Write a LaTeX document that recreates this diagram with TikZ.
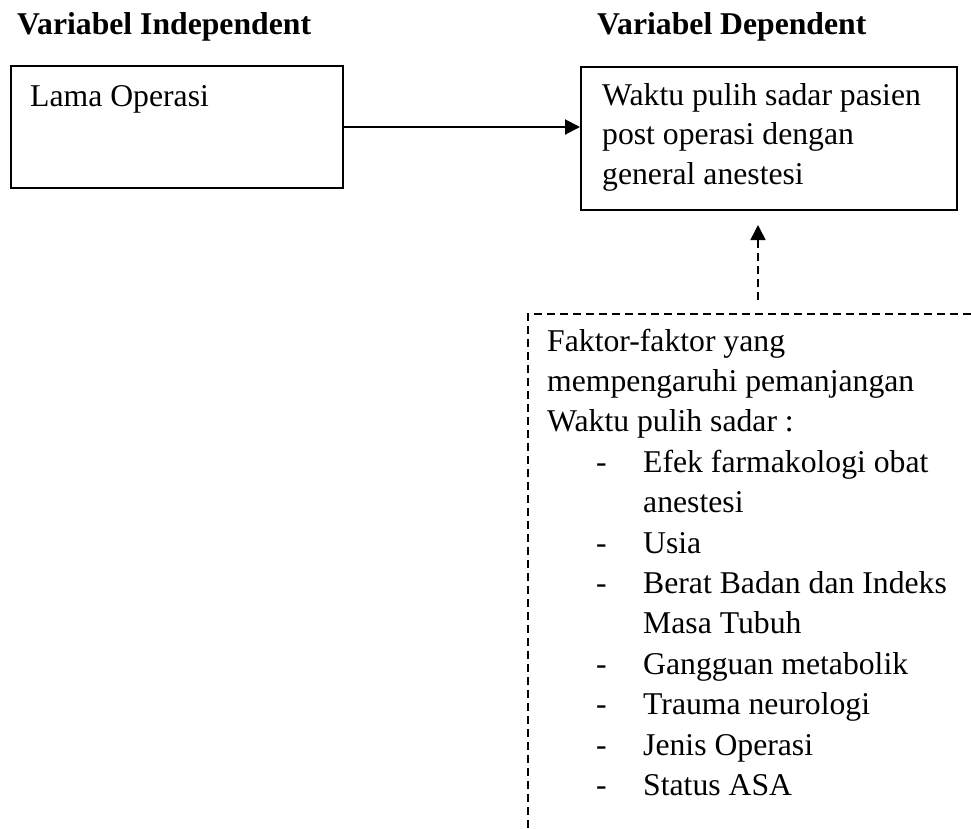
\documentclass[tikz,border=0pt]{standalone}
\usepackage{fontspec}
\setmainfont{Liberation Serif}
\usetikzlibrary{arrows.meta}
\begin{document}
\begin{tikzpicture}[x=1pt,y=-1pt,
  txt/.style={anchor=base west, inner sep=0pt, font=\fontsize{31.7}{40}\selectfont},
  hdr/.style={anchor=base west, inner sep=0pt, font=\fontsize{31.7}{40}\selectfont\bfseries},
  solidbox/.style={draw, line width=2pt, inner sep=0pt, anchor=north west},
  dashbox/.style={draw, line width=1.6pt, dash pattern=on 8pt off 5pt, inner sep=0pt, anchor=north west},
  arr/.style={line width=2pt, -{Triangle[length=15pt,width=15pt]}},
  darr/.style={line width=1.6pt, dash pattern=on 8pt off 5pt, -{Triangle[length=15pt,width=15pt]}}]
\path[use as bounding box] (0,0) rectangle (971,828);
\clip (0,0) rectangle (971,828);
% headers
\node[hdr] (hind) at (17,34) {Variabel Independent};
\node[hdr] (hdep) at (597,34) {Variabel Dependent};
% independent box
\node[solidbox, minimum width=332pt, minimum height=122pt] (indep) at (10,65) {};
\node[txt] (tlama) at (30,106) {Lama Operasi};
% dependent box
\node[solidbox, minimum width=376pt, minimum height=143pt] (dep) at (580,66) {};
\node[txt] (tdepa) at (602,105) {Waktu pulih sadar pasien};
\node[txt] (tdepb) at (602,144.5) {post operasi dengan};
\node[txt] (tdepc) at (602,184) {general anestesi};
% factors box (cut by the picture edge)
\node[dashbox, minimum width=520pt, minimum height=560pt] (fak) at (527,313) {};
\node[txt] (fa) at (547,351) {Faktor-faktor yang};
\node[txt] (fb) at (547,391.4) {mempengaruhi pemanjangan};
\node[txt] (fc) at (547,431.8) {Waktu pulih sadar :};
\node[txt] (d1) at (596,472.2) {-};
\node[txt] (i1) at (643,472.2) {Efek farmakologi obat};
\node[txt] (i1b) at (643,512.6) {anestesi};
\node[txt] (d2) at (596,553) {-};
\node[txt] (i2) at (643,553) {Usia};
\node[txt] (d3) at (596,593.4) {-};
\node[txt] (i3) at (643,593.4) {Berat Badan dan Indeks};
\node[txt] (i3b) at (643,633.8) {Masa Tubuh};
\node[txt] (d4) at (596,674.2) {-};
\node[txt] (i4) at (643,674.2) {Gangguan metabolik};
\node[txt] (d5) at (596,714.6) {-};
\node[txt] (i5) at (643,714.6) {Trauma neurologi};
\node[txt] (d6) at (596,755) {-};
\node[txt] (i6) at (643,755) {Jenis Operasi};
\node[txt] (d7) at (596,795.4) {-};
\node[txt] (i7) at (643,795.4) {Status ASA};
% connectors
\draw[arr] (indep.east) -- (dep.west |- indep.east);
\coordinate (dstart) at (758,300);
\draw[darr, shorten >=14pt] (dstart) -- (dstart |- dep.south);
\end{tikzpicture}
\end{document}
